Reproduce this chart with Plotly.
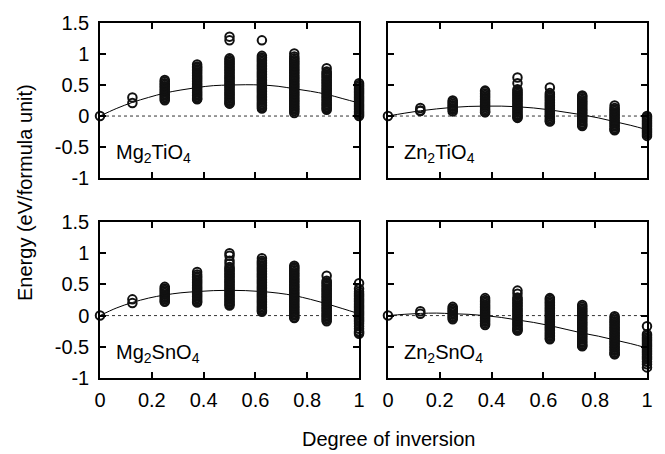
import plotly.graph_objects as go

# ---------------- data ----------------
inversion = [0.0, 0.125, 0.25, 0.375, 0.5, 0.625, 0.75, 0.875, 1.0]

mg2tio4_energy = [
    [0.00],
    [0.30, 0.21],
    [0.58, 0.555, 0.53, 0.505, 0.48, 0.455, 0.43, 0.405, 0.38, 0.355, 0.33, 0.305, 0.28, 0.255],
    [0.83, 0.80, 0.78, 0.755, 0.73, 0.705, 0.68, 0.655, 0.63, 0.605, 0.58, 0.555, 0.53, 0.505,
     0.48, 0.455, 0.43, 0.405, 0.38, 0.355, 0.33, 0.305, 0.28, 0.27],
    [1.28, 1.22, 0.93, 0.905, 0.88, 0.855, 0.83, 0.805, 0.78, 0.755, 0.73, 0.705, 0.68, 0.655,
     0.63, 0.605, 0.58, 0.555, 0.53, 0.505, 0.48, 0.455, 0.43, 0.405, 0.38, 0.355, 0.33, 0.305,
     0.28, 0.255, 0.23, 0.205, 0.20],
    [1.22, 0.97, 0.945, 0.92, 0.895, 0.87, 0.845, 0.82, 0.795, 0.77, 0.745, 0.72, 0.695, 0.67,
     0.645, 0.62, 0.595, 0.57, 0.545, 0.52, 0.495, 0.47, 0.445, 0.42, 0.395, 0.37, 0.345, 0.32,
     0.295, 0.27, 0.245, 0.22, 0.195, 0.17, 0.145, 0.12],
    [1.01, 0.96, 0.93, 0.905, 0.88, 0.855, 0.83, 0.805, 0.78, 0.755, 0.73, 0.705, 0.68, 0.655,
     0.63, 0.605, 0.58, 0.555, 0.53, 0.505, 0.48, 0.455, 0.43, 0.405, 0.38, 0.355, 0.33, 0.305,
     0.28, 0.255, 0.23, 0.205, 0.18, 0.155, 0.13, 0.105, 0.08, 0.05],
    [0.77, 0.72, 0.695, 0.67, 0.645, 0.62, 0.595, 0.57, 0.545, 0.52, 0.495, 0.47, 0.445, 0.42,
     0.395, 0.37, 0.345, 0.32, 0.295, 0.27, 0.245, 0.22, 0.195, 0.17, 0.145, 0.12, 0.10],
    [0.53, 0.50, 0.475, 0.45, 0.425, 0.40, 0.375, 0.35, 0.325, 0.30, 0.275, 0.25, 0.225, 0.20,
     0.175, 0.15, 0.125, 0.10, 0.075, 0.05, 0.025, 0.00],
]

zn2tio4_energy = [
    [0.00],
    [0.13, 0.09, 0.08],
    [0.25, 0.225, 0.20, 0.175, 0.15, 0.125, 0.10, 0.075],
    [0.41, 0.39, 0.365, 0.34, 0.315, 0.29, 0.265, 0.24, 0.215, 0.19, 0.165, 0.14, 0.115, 0.09,
     0.065, 0.06],
    [0.62, 0.53, 0.43, 0.405, 0.38, 0.355, 0.33, 0.305, 0.28, 0.255, 0.23, 0.205, 0.18, 0.155,
     0.13, 0.105, 0.08, 0.055, 0.03, 0.005, -0.02, -0.03],
    [0.46, 0.37, 0.345, 0.32, 0.295, 0.27, 0.245, 0.22, 0.195, 0.17, 0.145, 0.12, 0.095, 0.07,
     0.045, 0.02, -0.005, -0.03, -0.055, -0.08, -0.09],
    [0.33, 0.31, 0.285, 0.26, 0.235, 0.21, 0.185, 0.16, 0.135, 0.11, 0.085, 0.06, 0.035, 0.01,
     -0.015, -0.04, -0.065, -0.09, -0.115, -0.14, -0.16],
    [0.17, 0.13, 0.105, 0.08, 0.055, 0.03, 0.005, -0.02, -0.045, -0.07, -0.095, -0.12, -0.145,
     -0.17, -0.195, -0.22, -0.23],
    [0.00, -0.02, -0.045, -0.07, -0.095, -0.12, -0.145, -0.17, -0.195, -0.22, -0.245, -0.27,
     -0.295, -0.32],
]

mg2sno4_energy = [
    [0.00],
    [0.26, 0.20],
    [0.46, 0.435, 0.41, 0.385, 0.36, 0.335, 0.31, 0.285, 0.26, 0.235, 0.22],
    [0.70, 0.66, 0.63, 0.605, 0.58, 0.555, 0.53, 0.505, 0.48, 0.455, 0.43, 0.405, 0.38, 0.355,
     0.33, 0.305, 0.28, 0.255, 0.23, 0.21],
    [1.00, 0.96, 0.88, 0.83, 0.78, 0.755, 0.73, 0.705, 0.68, 0.655, 0.63, 0.605, 0.58, 0.555,
     0.53, 0.505, 0.48, 0.455, 0.43, 0.405, 0.38, 0.355, 0.33, 0.305, 0.28, 0.255, 0.23, 0.205,
     0.18, 0.16],
    [0.92, 0.88, 0.855, 0.83, 0.805, 0.78, 0.755, 0.73, 0.705, 0.68, 0.655, 0.63, 0.605, 0.58,
     0.555, 0.53, 0.505, 0.48, 0.455, 0.43, 0.405, 0.38, 0.355, 0.33, 0.305, 0.28, 0.255, 0.23,
     0.205, 0.18, 0.155, 0.13, 0.105, 0.08, 0.06],
    [0.80, 0.775, 0.75, 0.725, 0.70, 0.675, 0.65, 0.625, 0.60, 0.575, 0.55, 0.525, 0.50, 0.475,
     0.45, 0.425, 0.40, 0.375, 0.35, 0.325, 0.30, 0.275, 0.25, 0.225, 0.20, 0.175, 0.15, 0.125,
     0.10, 0.075, 0.05, 0.025, 0.00, -0.025, -0.04],
    [0.64, 0.56, 0.535, 0.51, 0.485, 0.46, 0.435, 0.41, 0.385, 0.36, 0.335, 0.31, 0.285, 0.26,
     0.235, 0.21, 0.185, 0.16, 0.135, 0.11, 0.085, 0.06, 0.035, 0.01, -0.015, -0.04, -0.065,
     -0.09],
    [0.52, 0.43, 0.38, 0.35, 0.325, 0.30, 0.275, 0.25, 0.225, 0.20, 0.175, 0.15, 0.125, 0.10,
     0.075, 0.05, 0.025, 0.00, -0.025, -0.05, -0.075, -0.10, -0.13, -0.17, -0.21, -0.25, -0.27,
     -0.29],
]

zn2sno4_energy = [
    [0.00],
    [0.07, 0.03],
    [0.14, 0.115, 0.09, 0.065, 0.04, 0.015, -0.01, -0.035, -0.06],
    [0.28, 0.25, 0.225, 0.20, 0.175, 0.15, 0.125, 0.10, 0.075, 0.05, 0.025, 0.00, -0.025, -0.05,
     -0.075, -0.10, -0.125, -0.15],
    [0.40, 0.35, 0.29, 0.265, 0.24, 0.215, 0.19, 0.165, 0.14, 0.115, 0.09, 0.065, 0.04, 0.015,
     -0.01, -0.035, -0.06, -0.085, -0.11, -0.135, -0.16, -0.185, -0.21, -0.235, -0.24],
    [0.28, 0.26, 0.235, 0.21, 0.185, 0.16, 0.135, 0.11, 0.085, 0.06, 0.035, 0.01, -0.015, -0.04,
     -0.065, -0.09, -0.115, -0.14, -0.165, -0.19, -0.215, -0.24, -0.265, -0.29, -0.315, -0.34,
     -0.365, -0.38],
    [0.17, 0.14, 0.115, 0.09, 0.065, 0.04, 0.015, -0.01, -0.035, -0.06, -0.085, -0.11, -0.135,
     -0.16, -0.185, -0.21, -0.235, -0.26, -0.285, -0.31, -0.335, -0.36, -0.385, -0.41, -0.435,
     -0.46, -0.485, -0.49],
    [-0.01, -0.04, -0.065, -0.09, -0.115, -0.14, -0.165, -0.19, -0.215, -0.24, -0.265, -0.29,
     -0.315, -0.34, -0.365, -0.39, -0.415, -0.44, -0.465, -0.49, -0.515, -0.54, -0.565, -0.59,
     -0.615, -0.62],
    [-0.17, -0.30, -0.325, -0.35, -0.375, -0.40, -0.425, -0.45, -0.475, -0.50, -0.525, -0.55,
     -0.575, -0.60, -0.625, -0.65, -0.675, -0.70, -0.74, -0.78, -0.83],
]

# fitted curves
curve_x = [0.0, 0.0625, 0.125, 0.1875, 0.25, 0.3125, 0.375, 0.4375, 0.5, 0.5625, 0.625,
           0.6875, 0.75, 0.8125, 0.875, 0.9375, 1.0]
mg2tio4_fit = [0.0, 0.12, 0.22, 0.30, 0.37, 0.42, 0.46, 0.49, 0.50, 0.505, 0.50, 0.48, 0.44,
               0.40, 0.35, 0.28, 0.21]
zn2tio4_fit = [0.0, 0.045, 0.085, 0.115, 0.14, 0.155, 0.16, 0.16, 0.15, 0.13, 0.10, 0.06, 0.02,
               -0.03, -0.09, -0.15, -0.22]
mg2sno4_fit = [0.0, 0.12, 0.21, 0.28, 0.33, 0.365, 0.385, 0.40, 0.405, 0.40, 0.385, 0.36, 0.32,
               0.26, 0.19, 0.11, 0.03]
zn2sno4_fit = [0.0, 0.02, 0.035, 0.04, 0.03, 0.02, 0.0, -0.03, -0.07, -0.11, -0.16, -0.22, -0.28,
               -0.33, -0.39, -0.45, -0.52]

panel_labels = ["Mg<sub>2</sub>TiO<sub>4</sub>", "Zn<sub>2</sub>TiO<sub>4</sub>",
                "Mg<sub>2</sub>SnO<sub>4</sub>", "Zn<sub>2</sub>SnO<sub>4</sub>"]
x_ticks = [0, 0.2, 0.4, 0.6, 0.8, 1]
x_ticklabels = ["0", "0.2", "0.4", "0.6", "0.8", "1"]
y_ticks = [-1, -0.5, 0, 0.5, 1, 1.5]
y_ticklabels = ["-1", "-0.5", "0", "0.5", "1", "1.5"]
x_title = "Degree of inversion"
y_title = "Energy (eV/formula unit)"

# ---------------- figure ----------------
FONT = "Liberation Sans, Arial, Helvetica, sans-serif"
W, H = 665, 454
ML, MR, MT, MB = 100, 16, 14, 76
PW, PH = W - ML - MR, H - MT - MB

def px_x(p):
    return (p - ML) / PW

def px_y(p):
    return (H - MB - p) / PH

x_domains = [[0, px_x(360)], [px_x(389), 1]]
y_domains = [[px_y(173), 1], [0, px_y(218)]]

datasets = [mg2tio4_energy, zn2tio4_energy, mg2sno4_energy, zn2sno4_energy]
fits = [mg2tio4_fit, zn2tio4_fit, mg2sno4_fit, zn2sno4_fit]

fig = go.Figure()
layout = dict(
    width=W, height=H,
    margin=dict(l=ML, r=MR, t=MT, b=MB),
    paper_bgcolor="white", plot_bgcolor="white",
    showlegend=False,
    font=dict(family=FONT, size=20, color="black"),
)

for i in range(4):
    r, c = divmod(i, 2)
    ax = "" if i == 0 else str(i + 1)
    xs, ys = [], []
    for xv, col in zip(inversion, datasets[i]):
        for e in col:
            xs.append(xv)
            ys.append(e)
    fig.add_trace(go.Scatter(
        x=curve_x, y=fits[i], mode="lines", line=dict(color="black", width=1, shape="spline"),
        xaxis="x" + ax, yaxis="y" + ax, hoverinfo="skip"))
    fig.add_trace(go.Scatter(
        x=xs, y=ys, mode="markers", cliponaxis=False,
        marker=dict(symbol="circle-open", size=8.5, color="#111111", line=dict(width=2.0)),
        xaxis="x" + ax, yaxis="y" + ax))
    fig.add_shape(type="line", xref="x" + ax, yref="y" + ax, x0=0, x1=1, y0=0, y1=0,
                  line=dict(color="#333333", width=1, dash="dot"), layer="below")
    common = dict(showgrid=False, zeroline=False, showline=True, linecolor="black",
                  linewidth=1.5, mirror="ticks", ticks="inside", ticklen=6, tickwidth=1.5,
                  tickcolor="black", tickfont=dict(family=FONT, size=20, color="black"))
    layout["xaxis" + ax] = dict(
        common, domain=x_domains[c], range=[0, 1], tickvals=x_ticks, ticktext=x_ticklabels,
        showticklabels=(r == 1), anchor="y" + ax, ticklabelstandoff=3)
    layout["yaxis" + ax] = dict(
        common, domain=y_domains[r], range=[-1, 1.5], tickvals=y_ticks, ticktext=y_ticklabels,
        showticklabels=(c == 0), anchor="x" + ax, ticklabelstandoff=5)
    fig.add_annotation(text=panel_labels[i], xref=("x" + ax) + " domain", yref="y" + ax,
                       x=0.055, y=-0.6, xanchor="left", yanchor="middle", showarrow=False,
                       font=dict(family=FONT, size=20, color="black"))

fig.add_annotation(text=x_title, xref="paper", yref="paper", x=px_x(390), y=px_y(441),
                   xanchor="center", yanchor="middle", showarrow=False,
                   font=dict(family=FONT, size=20, color="black"))
fig.add_annotation(text=y_title, xref="paper", yref="paper", x=px_x(24), y=px_y(188),
                   xanchor="center", yanchor="middle", textangle=-90, showarrow=False,
                   font=dict(family=FONT, size=20, color="black"))

fig.update_layout(**layout)
fig.write_html("out.html")
